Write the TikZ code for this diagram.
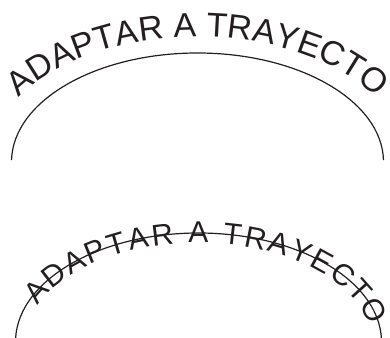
\documentclass[tikz,border=0pt]{standalone}
\usepackage{fontspec}
\setmainfont{Liberation Sans}
\usetikzlibrary{decorations.text}
\definecolor{ink}{HTML}{231F20}
\begin{document}
\begin{tikzpicture}[x=1pt,y=1pt,
  curve/.style={draw=ink, line width=1.2pt},
  bigtext/.style={decorate, decoration={text along path,
     text={|\fontsize{34}{34}\selectfont\color{ink}|ADAPTAR A TRAYECTO},
     text align=center}},
  ontext/.style={decorate, decoration={text along path,
     text={|\fontsize{30}{30}\selectfont\color{ink}|ADAPTAR A TRAYECTO},
     text align=fit to path, raise=-10pt}}]
\useasboundingbox (0,0) rectangle (390,337);
% top
\coordinate (c1) at (197.5,175);
\draw[curve] ([shift={(179:186 and 109)}]c1) arc[start angle=179, end angle=1, x radius=186, y radius=109];
\path[bigtext] ([shift={(150:209 and 125)}]c1) arc[start angle=150, end angle=30, x radius=209, y radius=125];
% bottom
\coordinate (c2) at (198.5,-5);
\draw[curve] ([shift={(181:183 and 109)}]c2) arc[start angle=181, end angle=-1, x radius=183, y radius=109];
\path[ontext] ([shift={(157:183 and 109)}]c2) arc[start angle=157, end angle=11, x radius=183, y radius=109];
\end{tikzpicture}
\end{document}
